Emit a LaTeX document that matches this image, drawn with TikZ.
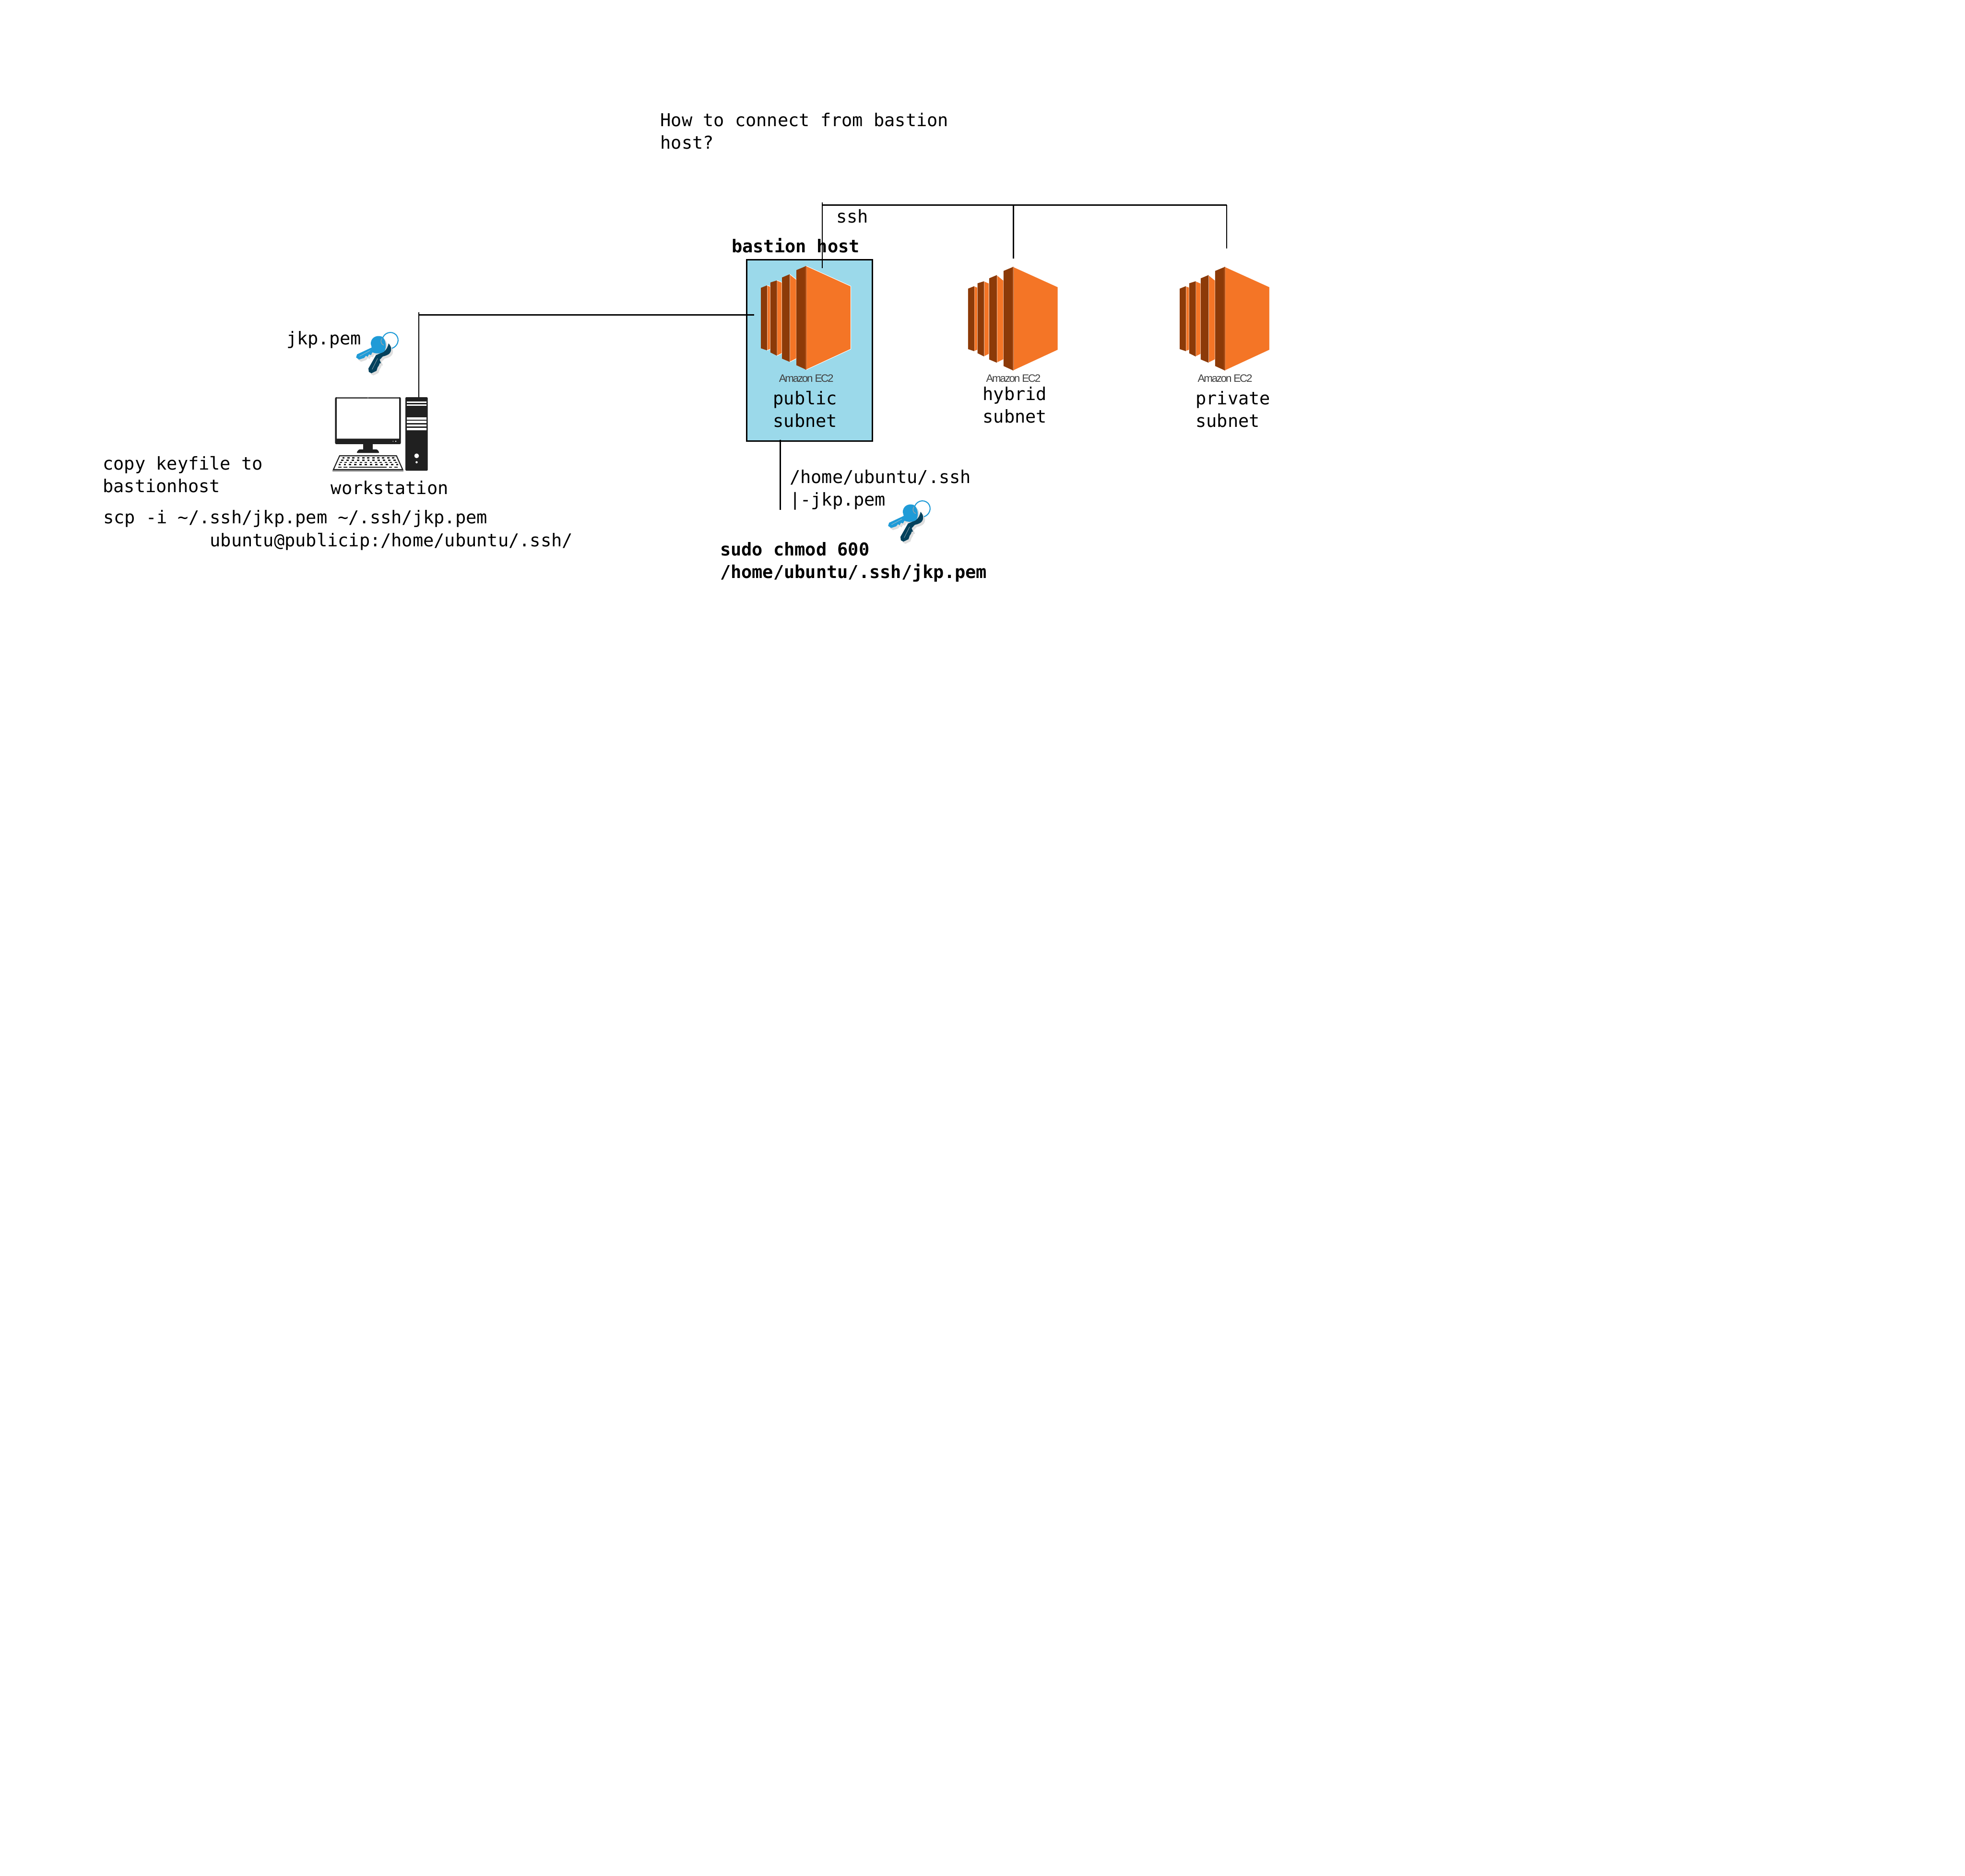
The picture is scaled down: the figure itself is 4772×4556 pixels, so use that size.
\documentclass[tikz,border=0pt]{standalone}
\usepackage{fontspec}
\setmonofont{DejaVu Sans Mono}
\newfontfamily\ectwofont[LetterSpace=-10]{Liberation Sans}
\definecolor{subnetblue}{HTML}{9BD9EA}
\definecolor{ecorange}{HTML}{F47526}
\definecolor{ecdark}{HTML}{8C3A08}
\definecolor{ecmid}{HTML}{A8480F}
\definecolor{keyblue}{HTML}{1F9BD7}
\definecolor{keydark}{HTML}{04415C}
\definecolor{pcdark}{HTML}{202020}
\newcommand{\bluekeypath}{(830,232) .. controls (785,218) and (750,245) .. (750,285) -- (757,312) -- (650,362) -- (643,385) -- (665,400) -- (702,388) -- (715,372) -- (727,380) -- (737,362) -- (752,367) -- (762,347) .. controls (790,360) and (832,358) .. (852,337) .. controls (868,300) and (858,248) .. (830,232) -- cycle}
\newcommand{\darkkeypath}{(880,282) .. controls (902,305) and (907,338) .. (882,360) .. controls (867,370) and (850,375) .. (838,377) -- (815,402) -- (825,427) -- (815,427) -- (810,442) -- (800,457) -- (792,482) -- (755,500) -- (736,490) -- (733,465) -- (788,368) -- (845,343) .. controls (865,328) and (875,308) .. (880,282) -- cycle}
\tikzset{
  line/.style={draw=black,line width=0.03cm},
  txt/.style={anchor=base west,inner sep=0pt,align=left,text=black,font=\ttfamily\fontsize{12.24}{15.6}\selectfont},
  boldtxt/.style={txt,font=\ttfamily\bfseries\fontsize{12.24}{15.6}\selectfont},
  ectxt/.style={inner sep=0pt,text=black!75,font=\ectwofont\fontsize{7.4}{8}\selectfont},
  ecfront/.style={fill=ecorange,draw=white,line width=0.012cm},
  ecside/.style={fill=ecdark},
  ec2icon/.pic={
    % columns from the back to the front
    \path[ecfront] (-95,47) -- (-87,50) -- (-87,202) -- (-95,205) -- cycle;
    \path[ecside] (-110,53) -- (-95,47) -- (-95,205) -- (-110,200) -- cycle;
    \path[ecfront] (-71,35) -- (-59,40) -- (-59,212) -- (-71,218) -- cycle;
    \path[ecside] (-87,40) -- (-71,35) -- (-71,218) -- (-87,210) -- cycle;
    \path[ecfront] (-40,20) -- (-24,33) -- (-24,225) -- (-40,233) -- cycle;
    \path[ecside] (-59,28) -- (-40,20) -- (-40,233) -- (-59,225) -- cycle;
    \path[ecfront] (0,0) -- (108,49) -- (108,202) -- (0,252) -- cycle;
    \path[ecside] (-24,10) -- (0,0) -- (0,252) -- (-24,241) -- cycle;
    \fill[ecmid] (-3,1) -- (0,0) -- (0,252) -- (-3,251) -- cycle;
  },
  keyring/.pic={
    \begin{scope}[x=0.00333cm,y=-0.00333cm,shift={(-800,-285)}]
      % soft shadow
      \begin{scope}[shift={(14,16)}]
        \fill[black,opacity=0.13] \bluekeypath;
        \fill[black,opacity=0.13] \darkkeypath;
      \end{scope}
      \fill[keydark] \darkkeypath;
      \draw[white!80!black,line width=0.007cm] (800,392) -- (760,472);
      \fill[keyblue] \bluekeypath;
      \draw[white!80!black,line width=0.007cm] (745,334) -- (668,376);
      \draw[black!35,line width=0.015cm] (838,240) .. controls (815,260) and (825,290) .. (845,295);
      \draw[keyblue,line width=0.025cm] (835,250) .. controls (845,205) and (900,185) .. (935,220) .. controls (965,255) and (945,305) .. (905,318);
    \end{scope}
  },
}
\begin{document}
\begin{tikzpicture}[x=0.01cm,y=-0.01cm]
  \useasboundingbox (0,0) rectangle (4772,4556);

  % bastion box and the three instances
  \node (pubbox) [draw=black,line width=0.035cm,fill=subnetblue,minimum width=3.05cm,minimum height=4.41cm,inner sep=0pt] at (1966,851) {};
  \pic (ecpub) at (1958,646) {ec2icon};
  \pic (echyb) at (2461,648) {ec2icon};
  \pic (ecpri) at (2975,648) {ec2icon};
  \node (ecpubtxt) [ectxt] at (1958,919) {Amazon EC2};
  \node (echybtxt) [ectxt] at (2461,919) {Amazon EC2};
  \node (ecpritxt) [ectxt] at (2975,919) {Amazon EC2};

  % workstation
  \begin{scope}[shift={(650,740)},x=0.00333cm,y=-0.00333cm]
    \fill[pcdark,rounded corners=0.03cm] (492,675) rectangle (972,1018);
    \fill[white] (505,686) rectangle (960,975);
    \draw[black!45,line width=0.01cm] (505,681) -- (960,681);
    \draw[black!45,line width=0.01cm] (505,978) -- (960,978);
    \fill[white] (732,680) circle (3);
    \fill[white] (915,997) circle (3);
    \fill[white] (935,997) circle (5);
    \fill[pcdark] (697,1015) rectangle (768,1062);
    \fill[pcdark,rounded corners=0.03cm] (647,1082) -- (665,1056) -- (800,1056) -- (817,1082) -- cycle;
    \fill[black!45] (472,1206) rectangle (992,1217);
    \draw[pcdark,fill=white,line width=0.025cm] (525,1103) -- (940,1103) -- (985,1203) -- (480,1203) -- cycle;
    \foreach \y/\xs/\xe/\n in {1118/553/915/11,1135/545/925/11,1151/533/935/12,1167/525/945/12} {
      \foreach \i in {1,...,\n} {
        \fill[pcdark] ({\xs+(\i-1)*(\xe-\xs)/(\n-1)-8},\y-4) rectangle ++(17,8);
      }
    }
    \fill[pcdark] (515,1182) rectangle ++(25,8);
    \fill[pcdark] (555,1182) rectangle ++(25,8);
    \fill[pcdark] (597,1182) rectangle (870,1190);
    \fill[pcdark] (885,1182) rectangle ++(22,8);
    \fill[pcdark] (925,1182) rectangle ++(25,8);
    \fill[pcdark,rounded corners=0.02cm] (1005,675) rectangle (1168,1212);
    \foreach \ya/\yb in {708/718,728/738,823/838,848/865,875/890,900/917} {
      \fill[white] (1017,\ya) rectangle (1158,\yb);
    }
    \fill[white] (1087,1103) circle (17);
    \fill[white] (1087,1150) circle (8);
  \end{scope}

  % keys
  \pic (keyws) at (917,835) {keyring};
  \pic (keybh) at (2209,1244) {keyring};

  % connector ends
  \coordinate (sshtop) at (1997,492);
  \coordinate (sshend) at (1997,651);
  \coordinate (buswest) at (1997,498);
  \coordinate (buseast) at (2979,498);
  \coordinate (hybtop) at (2461,498);
  \coordinate (hybend) at (2461,628);
  \coordinate (pritop) at (2979,498);
  \coordinate (priend) at (2979,603);
  \coordinate (wstop) at (1017,758);
  \coordinate (wsend) at (1017,965);
  \coordinate (wscorner) at (1017,765);
  \coordinate (pubin) at (1831,765);
  \coordinate (pubout) at (1895,1068);
  \coordinate (pubtail) at (1895,1238);

  \draw[line] (sshtop) -- (sshend);
  \draw[line] (buswest) -- (buseast);
  \draw[line] (hybtop) -- (hybend);
  \draw[line] (pritop) -- (priend);
  \draw[line] (wstop) -- (wsend);
  \draw[line] (wscorner) -- (pubin);
  \draw[line] (pubout) -- (pubtail);

  % labels
  \node (question) [txt] at (1603,362) {How to connect from bastion\\host?};
  \node (sshtxt) [txt] at (2030,541) {ssh};
  \node (bastiontxt) [boldtxt] at (1776,613) {bastion host};
  \node (pubtxt) [txt] at (1877,1038) {public\\subnet};
  \node (hybtxt) [txt] at (2386,1027) {hybrid\\subnet};
  \node (pritxt) [txt] at (2903,1038) {private\\subnet};
  \node (jkptxt) [txt] at (695,837) {jkp.pem};
  \node (wstxt) [txt] at (803,1200) {workstation};
  \node (copytxt) [txt] at (249,1196) {copy keyfile to\\bastionhost};
  \node (scptxt) [txt] at (250,1327) {scp -i \textasciitilde/.ssh/jkp.pem \textasciitilde/.ssh/jkp.pem\\\hphantom{xxxxxxxxxx}ubuntu@publicip:/home/ubuntu/.ssh/};
  \node (pathtxt) [txt] at (1917,1229) {/home/ubuntu/.ssh\\|-jkp.pem};
  \node (chmodtxt) [boldtxt] at (1748,1405) {sudo chmod 600\\/home/ubuntu/.ssh/jkp.pem};
\end{tikzpicture}
\end{document}
